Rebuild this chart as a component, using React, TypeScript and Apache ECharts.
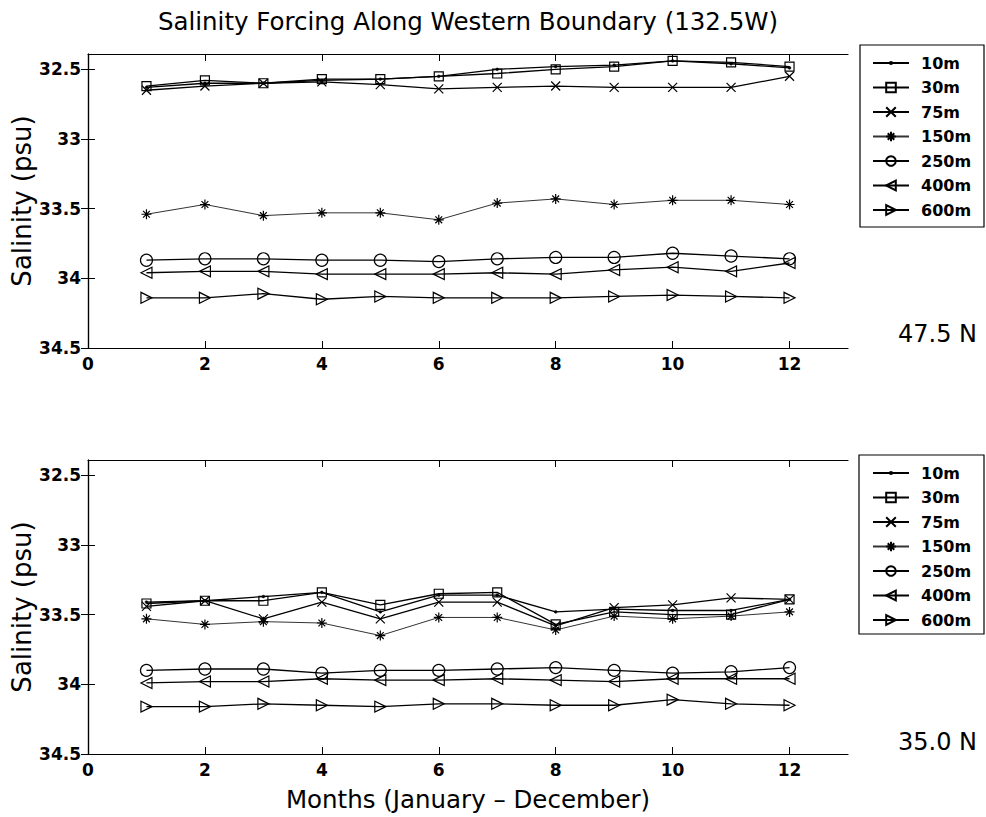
import React, { useEffect, useRef } from "react";
import * as echarts from "echarts";

const months = [1, 2, 3, 4, 5, 6, 7, 8, 9, 10, 11, 12];
const depthNames = ["10m", "30m", "75m", "150m", "250m", "400m", "600m"];
const xTicks = [0, 2, 4, 6, 8, 10, 12];
const yTicks = [32.5, 33, 33.5, 34, 34.5];

// Panel 1: 47.5 N
const north10 = [32.63, 32.6, 32.6, 32.58, 32.57, 32.55, 32.5, 32.48, 32.47, 32.44, 32.46, 32.49];
const north30 = [32.62, 32.58, 32.6, 32.57, 32.57, 32.55, 32.53, 32.5, 32.48, 32.44, 32.45, 32.48];
const north75 = [32.65, 32.62, 32.6, 32.59, 32.61, 32.64, 32.63, 32.62, 32.63, 32.63, 32.63, 32.55];
const north150 = [33.54, 33.47, 33.55, 33.53, 33.53, 33.58, 33.46, 33.43, 33.47, 33.44, 33.44, 33.47];
const north250 = [33.87, 33.86, 33.86, 33.87, 33.87, 33.88, 33.86, 33.85, 33.85, 33.82, 33.84, 33.86];
const north400 = [33.96, 33.95, 33.95, 33.97, 33.97, 33.97, 33.96, 33.97, 33.94, 33.92, 33.95, 33.89];
const north600 = [34.14, 34.14, 34.11, 34.15, 34.13, 34.14, 34.14, 34.14, 34.13, 34.12, 34.13, 34.14];

// Panel 2: 35.0 N
const south10 = [33.41, 33.4, 33.37, 33.34, 33.48, 33.36, 33.36, 33.48, 33.46, 33.47, 33.47, 33.39];
const south30 = [33.42, 33.4, 33.4, 33.34, 33.43, 33.35, 33.34, 33.57, 33.48, 33.5, 33.5, 33.39];
const south75 = [33.44, 33.4, 33.53, 33.41, 33.53, 33.41, 33.41, 33.58, 33.45, 33.43, 33.38, 33.39];
const south150 = [33.53, 33.57, 33.55, 33.56, 33.65, 33.52, 33.52, 33.61, 33.51, 33.53, 33.51, 33.48];
const south250 = [33.9, 33.89, 33.89, 33.92, 33.9, 33.9, 33.89, 33.88, 33.9, 33.92, 33.91, 33.88];
const south400 = [33.99, 33.98, 33.98, 33.96, 33.97, 33.97, 33.96, 33.97, 33.98, 33.96, 33.96, 33.96];
const south600 = [34.16, 34.16, 34.14, 34.15, 34.16, 34.14, 34.14, 34.15, 34.15, 34.11, 34.14, 34.15];

const northSeries = [north10, north30, north75, north150, north250, north400, north600];
const southSeries = [south10, south30, south75, south150, south250, south400, south600];

const symbols = [
  "path://M0,0M12,12M4.6,6A1.4,1.4,0,1,1,7.4,6A1.4,1.4,0,1,1,4.6,6Z",
  "rect",
  "path://M0,0L10,10M10,0L0,10",
  "path://M5,0L5,10M0,5L10,5M1.6,1.6L8.4,8.4M8.4,1.6L1.6,8.4",
  "circle",
  "path://M0,5L10,0L10,10Z",
  "path://M10,5L0,0L0,10Z",
];
const symbolSizes = [12, 9, 9, 10, 12, 11, 11];

const FONT = "'DejaVu Sans', 'Liberation Sans', sans-serif";

export default function App() {
  const ref = useRef<HTMLDivElement>(null);

  useEffect(() => {
    document.body.style.margin = "0";
    const chart = echarts.init(ref.current!, null, { renderer: "svg" });

    const grids = [
      { left: 88, top: 54, width: 760, height: 294, outerBoundsMode: "none", containLabel: false },
      { left: 88, top: 460, width: 760, height: 294, outerBoundsMode: "none", containLabel: false },
    ];

    const xAxes: any[] = [];
    const yAxes: any[] = [];
    grids.forEach((_, gi) => {
      xAxes.push({
        type: "value",
        gridIndex: gi,
        position: "bottom",
        min: 0,
        max: 13,
        axisLine: { lineStyle: { color: "#000", width: 1.2 } },
        axisTick: { inside: true, length: 7, customValues: xTicks, lineStyle: { color: "#000" } },
        axisLabel: {
          customValues: xTicks,
          margin: 7,
          color: "#000",
          fontFamily: FONT,
          fontSize: 17,
          fontWeight: "bold",
        },
        splitLine: { show: false },
        name: gi === 1 ? "Months (January \u2013 December)" : "",
        nameLocation: "middle",
        nameGap: 33,
        nameMoveOverlap: false,
        nameTextStyle: { color: "#000", fontFamily: FONT, fontSize: 24.5 },
      });
      xAxes.push({
        type: "value",
        gridIndex: gi,
        position: "top",
        min: 0,
        max: 13,
        axisLine: { lineStyle: { color: "#000", width: 1.2 } },
        axisTick: { inside: true, length: 7, customValues: xTicks, lineStyle: { color: "#000" } },
        axisLabel: { show: false },
        splitLine: { show: false },
      });
      yAxes.push({
        type: "value",
        gridIndex: gi,
        position: "left",
        inverse: true,
        min: 32.39,
        max: 34.5,
        axisLine: { lineStyle: { color: "#000", width: 1.2 } },
        axisTick: { inside: true, length: 7, customValues: yTicks, lineStyle: { color: "#000" } },
        axisLabel: {
          customValues: yTicks,
          margin: 7,
          color: "#000",
          fontFamily: FONT,
          fontSize: 17,
          fontWeight: "bold",
        },
        splitLine: { show: false },
        name: "Salinity (psu)",
        nameLocation: "middle",
        nameGap: 53,
        nameMoveOverlap: false,
        nameTextStyle: { color: "#000", fontFamily: FONT, fontSize: 26 },
      });
      yAxes.push({
        type: "value",
        gridIndex: gi,
        position: "right",
        inverse: true,
        min: 32.39,
        max: 34.5,
        axisLine: { lineStyle: { color: "#000", width: 1.2 } },
        axisTick: { inside: true, length: 7, customValues: yTicks, lineStyle: { color: "#000" } },
        axisLabel: { show: false },
        splitLine: { show: false },
      });
    });

    const makeSeries = (sets: number[][], gi: number) =>
      sets.map((vals, i) => ({
        type: "line",
        name: depthNames[i],
        xAxisIndex: gi * 2,
        yAxisIndex: gi * 2,
        data: months.map((m, k) => [m, vals[k]]),
        symbol: symbols[i],
        symbolSize: symbolSizes[i],
        showSymbol: true,
        lineStyle: { color: i === 3 ? "#333" : "#000", width: i === 3 ? 1 : 1.3 },
        itemStyle: {
          color: i === 0 ? "#000" : "rgba(255,255,255,0)",
          borderColor: "#000",
          borderWidth: i === 0 ? 0.5 : 1.2,
        },
        emphasis: { disabled: true },
        z: 3,
      }));

    const legendBase = {
      orient: "vertical",
      left: 872,
      itemWidth: 36,
      itemHeight: 12,
      itemGap: 8.5,
      padding: 0,
      borderWidth: 0,
      selectedMode: false,
      data: depthNames,
      textStyle: {
        color: "#000",
        fontFamily: FONT,
        fontSize: 16,
        fontWeight: "bold",
        padding: [0, 0, 0, 7],
      },
    };

    chart.setOption({
      animation: false,
      backgroundColor: "#fff",
      grid: grids,
      xAxis: xAxes,
      yAxis: yAxes,
      legend: [
        { ...legendBase, top: 55 },
        { ...legendBase, top: 465 },
      ],
      series: [...makeSeries(northSeries, 0), ...makeSeries(southSeries, 1)],
      graphic: [
        {
          type: "rect",
          shape: { x: 860, y: 45, width: 124, height: 182 },
          style: { fill: "none", stroke: "#000", lineWidth: 1.2 },
        },
        {
          type: "rect",
          shape: { x: 859, y: 455, width: 125, height: 179 },
          style: { fill: "none", stroke: "#000", lineWidth: 1.2 },
        },
        {
          type: "text",
          x: 468,
          y: 21,
          style: {
            text: "Salinity Forcing Along Western Boundary (132.5W)",
            fill: "#000",
            font: `24.5px ${FONT}`,
            align: "center",
            verticalAlign: "middle",
          },
        },
        {
          type: "text",
          x: 977,
          y: 334,
          style: {
            text: "47.5 N",
            fill: "#000",
            font: `24px ${FONT}`,
            align: "right",
            verticalAlign: "middle",
          },
        },
        {
          type: "text",
          x: 977,
          y: 742,
          style: {
            text: "35.0 N",
            fill: "#000",
            font: `24px ${FONT}`,
            align: "right",
            verticalAlign: "middle",
          },
        },
      ],
    });

    return () => chart.dispose();
  }, []);

  return <div ref={ref} style={{ width: 986, height: 817 }} />;
}
